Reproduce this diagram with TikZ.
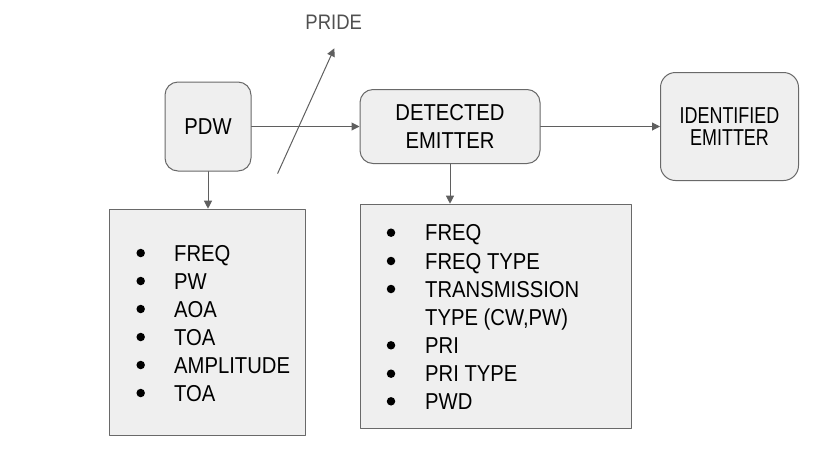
\documentclass[tikz,border=0pt]{standalone}
\usepackage{fontspec}
\setmainfont{Liberation Sans}[FakeStretch=0.88]
\newfontfamily\narrowfont{Liberation Sans}[FakeStretch=0.78]
\usetikzlibrary{arrows.meta}
\definecolor{linegray}{RGB}{95,95,95}
\definecolor{boxgray}{RGB}{239,239,239}
\definecolor{edgegray}{RGB}{105,105,105}
\definecolor{textgray}{RGB}{80,80,80}
\tikzset{
  roundbox/.style={draw=edgegray,fill=boxgray,rounded corners=13pt,line width=1pt,align=center,inner sep=0pt},
  listbox/.style={draw=edgegray,fill=boxgray,line width=1pt,inner sep=0pt},
  bul/.style={circle,fill=black,inner sep=0pt,minimum size=8.5pt},
  item/.style={anchor=base west,inner sep=0pt},
  flow/.style={->,draw=linegray,line width=1pt}
}

\begin{document}
\begin{tikzpicture}[line cap=round,line join=round,>={Triangle[length=8pt,width=8pt]},x=1pt,y=-1pt]
\useasboundingbox (0,0) rectangle (832,464);
\fontsize{23}{28}\selectfont

% boxes
\node[roundbox,minimum width=86pt,minimum height=89pt] (pdw) at (208,126.5) {PDW};
\node[roundbox,minimum width=180pt,minimum height=74pt] (det) at (450,126.5) {DETECTED\\EMITTER};
\node[roundbox,minimum width=138pt,minimum height=108pt,rounded corners=15pt,font=\narrowfont\fontsize{23}{22}\selectfont] (ident) at (729.5,126.5) {IDENTIFIED\\EMITTER};
\node[listbox,minimum width=196pt,minimum height=226pt] (pdwlist) at (207.2,322.2) {};
\node[listbox,minimum width=271pt,minimum height=224pt] (detlist) at (495.5,316.2) {};

% pride
\node[textgray,anchor=base,inner sep=0pt,font=\fontsize{21}{24}\selectfont] (pride) at (333.7,29.3) {PRIDE};
\coordinate (prideTail) at (277.7,173.3);
\coordinate (prideTip) at (334.3,48.3);

% connectors
\draw[flow] (pdw.east) -- (det.west);
\draw[flow] (det.east) -- (ident.west);
\draw[flow] (pdw.south) -- (pdw.south |- pdwlist.north);
\draw[flow] (det.south) -- (det.south |- detlist.north);
\draw[flow] (prideTail) -- (prideTip);

% pdw list
\node[bul] (pb1) at (140.7,253) {};
\node[item] (pt1) at (174,261) {FREQ};
\node[bul] (pb2) at (140.7,281) {};
\node[item] (pt2) at (174,289) {PW};
\node[bul] (pb3) at (140.7,309) {};
\node[item] (pt3) at (174,317) {AOA};
\node[bul] (pb4) at (140.7,337) {};
\node[item] (pt4) at (174,345) {TOA};
\node[bul] (pb5) at (140.7,365) {};
\node[item] (pt5) at (174,373) {AMPLITUDE};
\node[bul] (pb6) at (140.7,393) {};
\node[item] (pt6) at (174,401) {TOA};

% detected emitter list
\node[bul] (db1) at (391,232.7) {};
\node[item] (dt1) at (425,240.7) {FREQ};
\node[bul] (db2) at (391,261) {};
\node[item] (dt2) at (425,269) {FREQ TYPE};
\node[bul] (db3) at (391,289) {};
\node[item] (dt3) at (425,297) {TRANSMISSION};
\node[item] (dt3b) at (425,325) {TYPE (CW,PW)};
\node[bul] (db4) at (391,345.3) {};
\node[item] (dt4) at (425,353.3) {PRI};
\node[bul] (db5) at (391,373.7) {};
\node[item] (dt5) at (425,381.7) {PRI TYPE};
\node[bul] (db6) at (391,401.3) {};
\node[item] (dt6) at (425,409.3) {PWD};
\end{tikzpicture}
\end{document}
